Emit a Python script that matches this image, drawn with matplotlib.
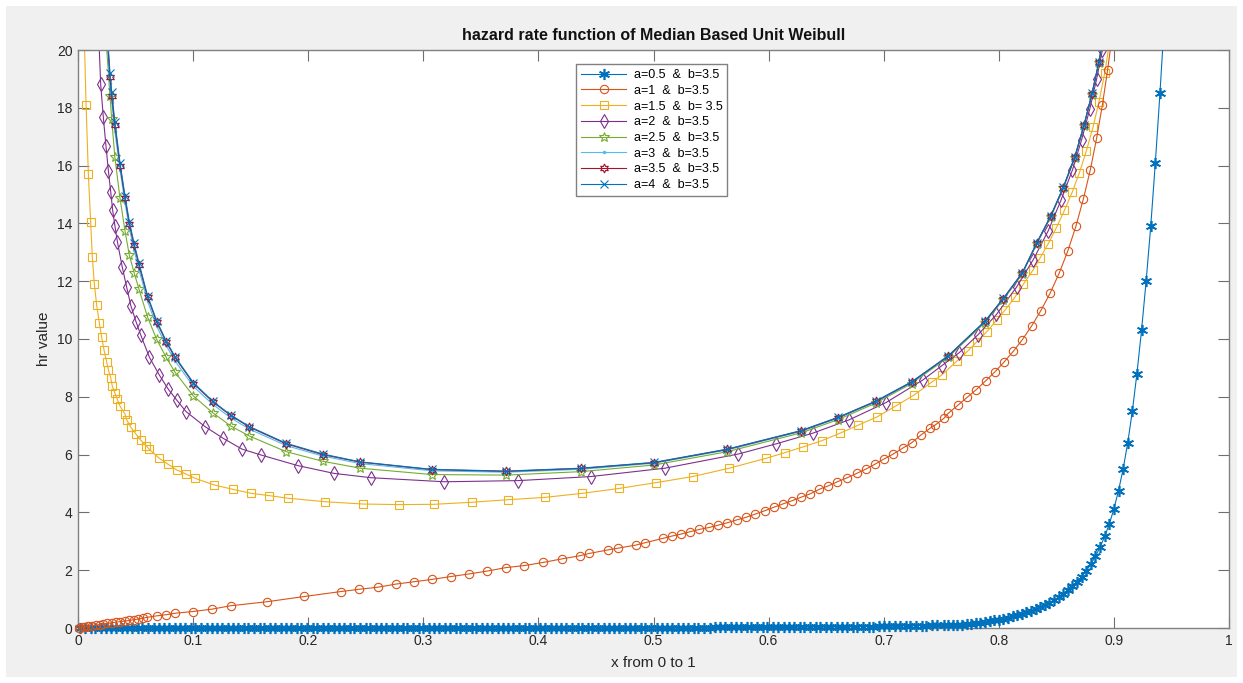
import numpy as np
import matplotlib.pyplot as plt
from matplotlib.patches import Rectangle

plt.rcParams['font.family'] = ['Liberation Sans', 'DejaVu Sans']

# ---- text ----
title = "hazard rate function of Median Based Unit Weibull"
x_label = "x from 0 to 1"
y_label = "hr value"
labels = ["a=0.5  &  b=3.5", "a=1  &  b=3.5", "a=1.5  &  b= 3.5", "a=2  &  b=3.5",
          "a=2.5  &  b=3.5", "a=3  &  b=3.5", "a=3.5  &  b=3.5", "a=4  &  b=3.5"]
x_ticks = [0, 0.1, 0.2, 0.3, 0.4, 0.5, 0.6, 0.7, 0.8, 0.9, 1.0]
x_tick_labels = ["0", "0.1", "0.2", "0.3", "0.4", "0.5", "0.6", "0.7", "0.8", "0.9", "1"]
y_ticks = [0, 2, 4, 6, 8, 10, 12, 14, 16, 18, 20]

# ---- a=0.5 ----
blue_x = [
    0.002, 0.006, 0.011, 0.015, 0.020, 0.024, 0.029, 0.033, 0.038, 0.043,
    0.047, 0.052, 0.056, 0.061, 0.066, 0.070, 0.075, 0.079, 0.084, 0.089,
    0.093, 0.098, 0.102, 0.107, 0.112, 0.116, 0.121, 0.125, 0.130, 0.135,
    0.139, 0.144, 0.148, 0.153, 0.158, 0.162, 0.167, 0.171, 0.176, 0.181,
    0.185, 0.190, 0.194, 0.199, 0.204, 0.208, 0.213, 0.217, 0.222, 0.227,
    0.231, 0.236, 0.240, 0.245, 0.250, 0.254, 0.259, 0.263, 0.268, 0.273,
    0.277, 0.282, 0.286, 0.291, 0.296, 0.300, 0.305, 0.309, 0.314, 0.319,
    0.323, 0.328, 0.332, 0.337, 0.342, 0.346, 0.351, 0.355, 0.360, 0.365,
    0.369, 0.374, 0.378, 0.383, 0.388, 0.392, 0.397, 0.401, 0.406, 0.411,
    0.415, 0.420, 0.424, 0.429, 0.434, 0.438, 0.443, 0.447, 0.452, 0.457,
    0.461, 0.466, 0.470, 0.475, 0.480, 0.484, 0.489, 0.493, 0.498, 0.503,
    0.507, 0.512, 0.516, 0.521, 0.526, 0.530, 0.535, 0.539, 0.544, 0.549,
    0.553, 0.558, 0.562, 0.567, 0.572, 0.576, 0.581, 0.585, 0.590, 0.595,
    0.599, 0.604, 0.608, 0.613, 0.618, 0.622, 0.627, 0.631, 0.636, 0.641,
    0.645, 0.650, 0.654, 0.659, 0.664, 0.668, 0.673, 0.677, 0.682, 0.687,
    0.691, 0.696, 0.700, 0.705, 0.710, 0.714, 0.719, 0.723, 0.728, 0.733,
    0.737, 0.742, 0.746, 0.752, 0.756, 0.760, 0.764, 0.768, 0.772, 0.776,
    0.780, 0.784, 0.788, 0.792, 0.796, 0.800, 0.804, 0.808, 0.812, 0.816,
    0.820, 0.824, 0.828, 0.832, 0.836, 0.840, 0.844, 0.848, 0.852, 0.856,
    0.860, 0.864, 0.868, 0.872, 0.876, 0.880, 0.884, 0.888, 0.892, 0.896,
    0.900, 0.904, 0.908, 0.912, 0.916, 0.920, 0.924, 0.928, 0.932, 0.936,
    0.940, 0.944,
]
blue_y = [
    0.00, 0.00, 0.00, 0.00, 0.00, 0.00, 0.00, 0.00, 0.00, 0.00,
    0.00, 0.00, 0.00, 0.00, 0.00, 0.00, 0.00, 0.00, 0.00, 0.00,
    0.00, 0.00, 0.00, 0.00, 0.00, 0.00, 0.00, 0.00, 0.00, 0.00,
    0.00, 0.00, 0.00, 0.00, 0.00, 0.00, 0.00, 0.00, 0.00, 0.00,
    0.00, 0.00, 0.00, 0.00, 0.00, 0.00, 0.00, 0.00, 0.00, 0.00,
    0.00, 0.00, 0.00, 0.00, 0.00, 0.00, 0.00, 0.00, 0.00, 0.00,
    0.00, 0.00, 0.00, 0.00, 0.00, 0.00, 0.00, 0.00, 0.00, 0.00,
    0.00, 0.00, 0.00, 0.00, 0.00, 0.00, 0.00, 0.00, 0.00, 0.00,
    0.00, 0.00, 0.00, 0.00, 0.00, 0.00, 0.00, 0.00, 0.00, 0.00,
    0.01, 0.01, 0.01, 0.01, 0.01, 0.01, 0.01, 0.01, 0.01, 0.01,
    0.01, 0.01, 0.01, 0.01, 0.01, 0.01, 0.01, 0.01, 0.01, 0.01,
    0.01, 0.01, 0.01, 0.01, 0.01, 0.01, 0.01, 0.01, 0.01, 0.01,
    0.02, 0.02, 0.02, 0.02, 0.02, 0.02, 0.02, 0.02, 0.02, 0.02,
    0.02, 0.02, 0.02, 0.02, 0.03, 0.03, 0.03, 0.03, 0.03, 0.03,
    0.03, 0.03, 0.04, 0.04, 0.04, 0.04, 0.04, 0.05, 0.05, 0.05,
    0.05, 0.06, 0.06, 0.06, 0.06, 0.07, 0.07, 0.07, 0.08, 0.08,
    0.08, 0.09, 0.09, 0.09, 0.10, 0.10, 0.11, 0.12, 0.13, 0.14,
    0.16, 0.18, 0.20, 0.23, 0.26, 0.29, 0.32, 0.36, 0.40, 0.44,
    0.49, 0.54, 0.60, 0.66, 0.73, 0.80, 0.88, 0.97, 1.07, 1.18,
    1.30, 1.44, 1.60, 1.78, 1.98, 2.21, 2.48, 2.80, 3.17, 3.60,
    4.12, 4.75, 5.50, 6.40, 7.50, 8.80, 10.30, 12.00, 13.90, 16.10,
    18.50, 21.10,
]

# ---- a=1 ----
orange_x = [
    0.0005, 0.0020, 0.0040, 0.0060, 0.0090, 0.0120, 0.0156, 0.0190, 0.0220, 0.0255,
    0.0293, 0.0330, 0.0365, 0.0405, 0.0446, 0.0485, 0.0524, 0.0562, 0.0602, 0.0683,
    0.0765, 0.0843, 0.0996, 0.1161, 0.1327, 0.1645, 0.1966, 0.2282, 0.2444, 0.2604,
    0.2763, 0.2919, 0.3073, 0.3238, 0.3397, 0.3556, 0.3718, 0.3877, 0.4043, 0.4202,
    0.4361, 0.4442, 0.4602, 0.4689, 0.4848, 0.4926, 0.5080, 0.5158, 0.5239, 0.5317,
    0.5398, 0.5485, 0.5563, 0.5641, 0.5723, 0.5804, 0.5882, 0.5969, 0.6047, 0.6122,
    0.6201, 0.6279, 0.6360, 0.6441, 0.6519, 0.6597, 0.6684, 0.6765, 0.6846, 0.6925,
    0.7003, 0.7083, 0.7164, 0.7243, 0.7324, 0.7402, 0.7446, 0.7524, 0.7561, 0.7648,
    0.7725, 0.7805, 0.7885, 0.7965, 0.8045, 0.8125, 0.8205, 0.8285, 0.8365, 0.8445,
    0.8525, 0.8600, 0.8670, 0.8735, 0.8795, 0.8850, 0.8900, 0.8945, 0.8985, 0.9025,
]
orange_y = [
    0.00, 0.01, 0.02, 0.04, 0.06, 0.08, 0.10, 0.12, 0.14, 0.16,
    0.18, 0.20, 0.22, 0.24, 0.26, 0.29, 0.31, 0.34, 0.37, 0.42,
    0.46, 0.51, 0.57, 0.65, 0.77, 0.91, 1.09, 1.26, 1.34, 1.41,
    1.52, 1.60, 1.68, 1.78, 1.87, 1.97, 2.09, 2.16, 2.27, 2.39,
    2.50, 2.58, 2.70, 2.76, 2.87, 2.95, 3.10, 3.18, 3.25, 3.33,
    3.41, 3.48, 3.56, 3.64, 3.74, 3.83, 3.94, 4.06, 4.18, 4.29,
    4.40, 4.52, 4.64, 4.80, 4.92, 5.06, 5.20, 5.35, 5.50, 5.67,
    5.85, 6.02, 6.22, 6.41, 6.68, 6.91, 7.02, 7.26, 7.43, 7.72,
    7.98, 8.25, 8.55, 8.86, 9.20, 9.57, 9.98, 10.45, 10.98, 11.58,
    12.28, 13.05, 13.90, 14.85, 15.85, 16.95, 18.10, 19.30, 20.50, 21.70,
]

# ---- a=1.5 ----
yellow_x = [
    0.0045, 0.0070, 0.0090, 0.0110, 0.0124, 0.0142, 0.0162, 0.0185, 0.0206, 0.0226,
    0.0249, 0.0264, 0.0284, 0.0298, 0.0321, 0.0342, 0.0365, 0.0408, 0.0423, 0.0460,
    0.0504, 0.0545, 0.0591, 0.0620, 0.0707, 0.0785, 0.0857, 0.0938, 0.1017, 0.1182,
    0.1344, 0.1503, 0.1662, 0.1827, 0.2146, 0.2473, 0.2792, 0.3093, 0.3420, 0.3739,
    0.4057, 0.4382, 0.4703, 0.5022, 0.5340, 0.5659, 0.5977, 0.6143, 0.6302, 0.6461,
    0.6620, 0.6780, 0.6945, 0.7104, 0.7263, 0.7422, 0.7503, 0.7639, 0.7735, 0.7808,
    0.7895, 0.7981, 0.8054, 0.8141, 0.8214, 0.8300, 0.8358, 0.8430, 0.8500, 0.8570,
    0.8640, 0.8700, 0.8760, 0.8820, 0.8870, 0.8920, 0.8960, 0.9000,
]
yellow_y = [
    22.00, 18.10, 15.70, 14.06, 12.85, 11.90, 11.18, 10.56, 10.06, 9.62,
    9.21, 8.93, 8.66, 8.37, 8.12, 7.91, 7.68, 7.40, 7.20, 6.94,
    6.71, 6.50, 6.31, 6.18, 5.87, 5.66, 5.47, 5.33, 5.18, 4.95,
    4.80, 4.66, 4.58, 4.49, 4.37, 4.29, 4.27, 4.28, 4.35, 4.44,
    4.52, 4.66, 4.83, 5.03, 5.24, 5.53, 5.87, 6.07, 6.27, 6.48,
    6.74, 7.02, 7.31, 7.68, 8.06, 8.52, 8.75, 9.25, 9.60, 9.90,
    10.25, 10.65, 11.00, 11.45, 11.90, 12.40, 12.80, 13.30, 13.85, 14.45,
    15.10, 15.75, 16.50, 17.35, 18.20, 19.20, 20.20, 21.30,
]

# ---- a=2 ----
purple_x = [
    0.0175, 0.0197, 0.0220, 0.0243, 0.0264, 0.0284, 0.0301, 0.0321, 0.0342, 0.0385,
    0.0423, 0.0460, 0.0504, 0.0545, 0.0620, 0.0707, 0.0785, 0.0857, 0.0938, 0.1103,
    0.1263, 0.1425, 0.1587, 0.1909, 0.2224, 0.2546, 0.3183, 0.3826, 0.4454, 0.5100,
    0.5737, 0.6064, 0.6383, 0.6698, 0.7020, 0.7339, 0.7503, 0.7657, 0.7820, 0.7980,
    0.8155, 0.8300, 0.8430, 0.8540, 0.8640, 0.8720, 0.8790, 0.8850, 0.8900, 0.8950,
]
purple_y = [
    21.00, 18.82, 17.67, 16.68, 15.82, 15.10, 14.46, 13.91, 13.37, 12.48,
    11.79, 11.14, 10.60, 10.14, 9.37, 8.75, 8.26, 7.89, 7.49, 6.97,
    6.56, 6.19, 5.99, 5.62, 5.35, 5.20, 5.06, 5.10, 5.24, 5.53,
    6.02, 6.37, 6.74, 7.20, 7.80, 8.58, 9.07, 9.53, 10.15, 10.85,
    11.80, 12.75, 13.75, 14.80, 15.85, 16.90, 17.95, 19.00, 20.00, 21.20,
]

# ---- a=2.5 .. a=4 share the same x points ----
top_x = [
    0.0240, 0.0278, 0.0293, 0.0320, 0.0365, 0.0408, 0.0446, 0.0487, 0.0530, 0.0605,
    0.0683, 0.0765, 0.0843, 0.1002, 0.1170, 0.1327, 0.1490, 0.1810, 0.2126, 0.2450,
    0.3073, 0.3718, 0.4367, 0.5004, 0.5641, 0.6281, 0.6603, 0.6930, 0.7243, 0.7561,
    0.7880, 0.8040, 0.8205, 0.8330, 0.8450, 0.8560, 0.8660, 0.8740, 0.8810, 0.8870, 0.8920,
]
green_y = [
    20.60, 18.40, 17.60, 16.30, 14.87, 13.75, 12.90, 12.30, 11.72, 10.75,
    9.99, 9.37, 8.85, 8.03, 7.45, 6.99, 6.64, 6.10, 5.77, 5.53,
    5.31, 5.29, 5.41, 5.64, 6.10, 6.75, 7.21, 7.78, 8.46, 9.37,
    10.57, 11.36, 12.26, 13.29, 14.21, 15.21, 16.26, 17.36, 18.46, 19.56, 20.66,
]
cyan_y = [
    21.00, 18.85, 18.20, 17.20, 15.85, 14.72, 13.82, 13.08, 12.40, 11.30,
    10.45, 9.78, 9.24, 8.36, 7.74, 7.27, 6.88, 6.31, 5.95, 5.69,
    5.44, 5.39, 5.49, 5.70, 6.16, 6.80, 7.26, 7.82, 8.49, 9.40,
    10.60, 11.39, 12.28, 13.31, 14.23, 15.23, 16.28, 17.38, 18.48, 19.58, 20.68,
]
red_y = [
    21.30, 19.05, 18.40, 17.40, 16.00, 14.88, 13.98, 13.24, 12.56, 11.44,
    10.60, 9.90, 9.36, 8.46, 7.83, 7.35, 6.95, 6.37, 6.00, 5.74,
    5.48, 5.42, 5.52, 5.72, 6.18, 6.82, 7.28, 7.84, 8.51, 9.41,
    10.61, 11.40, 12.29, 13.32, 14.24, 15.24, 16.29, 17.39, 18.49, 19.59, 20.69,
]
navy_y = [
    21.50, 19.20, 18.55, 17.52, 16.10, 14.96, 14.06, 13.31, 12.62, 11.49,
    10.64, 9.94, 9.39, 8.49, 7.85, 7.37, 6.97, 6.39, 6.02, 5.75,
    5.49, 5.43, 5.53, 5.73, 6.19, 6.83, 7.29, 7.85, 8.52, 9.42,
    10.62, 11.41, 12.30, 13.33, 14.25, 15.25, 16.30, 17.40, 18.50, 19.60, 20.70,
]

# matlab default colour order
c_blue = (0.0, 0.447, 0.741)
c_orange = (0.85, 0.325, 0.098)
c_yellow = (0.929, 0.694, 0.125)
c_purple = (0.494, 0.184, 0.556)
c_green = (0.466, 0.674, 0.188)
c_cyan = (0.301, 0.745, 0.933)
c_red = (0.635, 0.078, 0.184)

fig = plt.figure(figsize=(12.43, 6.83), dpi=100, facecolor='white')
fig.patches.append(Rectangle((6 / 1243, 6 / 683), 1231 / 1243, 671 / 683,
                             transform=fig.transFigure, facecolor='#f0f0f0',
                             edgecolor='none', zorder=-10))
ax = fig.add_axes([78 / 1243, 1 - 628 / 683, 1151 / 1243, 578 / 683])
ax.set_facecolor('white')

lw = 0.8
lines = [
    ax.plot(blue_x, blue_y, color=c_blue, lw=lw, marker=(6, 2, 0), ms=8, mew=1.2, label=labels[0], zorder=3),
    ax.plot(orange_x, orange_y, color=c_orange, lw=lw, marker='o', ms=6, mfc='none', mew=0.8, label=labels[1], zorder=3),
    ax.plot(yellow_x, yellow_y, color=c_yellow, lw=lw, marker='s', ms=5.5, mfc='none', mew=0.8, label=labels[2]),
    ax.plot(purple_x, purple_y, color=c_purple, lw=lw, marker='d', ms=7, mfc='none', mew=0.8, label=labels[3]),
    ax.plot(top_x, green_y, color=c_green, lw=lw, marker='*', ms=7, mfc='none', mew=0.8, label=labels[4]),
    ax.plot(top_x, cyan_y, color=c_cyan, lw=lw, marker='.', ms=3, label=labels[5]),
    ax.plot(top_x, red_y, color=c_red, lw=lw, marker=(6, 1, 0), ms=6.5, mfc='none', mew=0.8, label=labels[6]),
    ax.plot(top_x, navy_y, color=c_blue, lw=lw, marker='x', ms=6, mew=0.8, label=labels[7]),
]

# markers sitting on y=0 are drawn whole (like matlab), curves still cut at the top
clip = Rectangle((-0.01, -0.03), 1.02, 1.03, transform=ax.transAxes, facecolor='none', edgecolor='none')
for ln in lines:
    ln[0].set_clip_path(clip)

ax.set_xlim(0, 1)
ax.set_ylim(0, 20)
ax.set_xticks(x_ticks)
ax.set_xticklabels(x_tick_labels)
ax.set_yticks(y_ticks)
ax.tick_params(direction='in', top=True, right=True, length=8, width=0.8,
               color='#6e6e6e', labelsize=10, labelcolor='#262626', pad=4)
for s in ax.spines.values():
    s.set_color('#808080')
    s.set_linewidth(1.0)

ax.set_title(title, fontsize=11.5, fontweight='bold', color='#111111', pad=7)
ax.set_xlabel(x_label, fontsize=11, color='#262626', labelpad=6)
ax.set_ylabel(y_label, fontsize=11, color='#262626', labelpad=4)

leg = ax.legend(loc='upper left', bbox_to_anchor=(498 / 1151, 564 / 578), fontsize=9,
                frameon=True, fancybox=False, framealpha=1, edgecolor='#808080',
                handlelength=3.6, handletextpad=0.6, labelspacing=0.3,
                borderpad=0.4, borderaxespad=0)
leg.get_frame().set_linewidth(1.0)
leg.set_zorder(5)

fig.savefig('out.png', dpi=100, facecolor=fig.get_facecolor())
